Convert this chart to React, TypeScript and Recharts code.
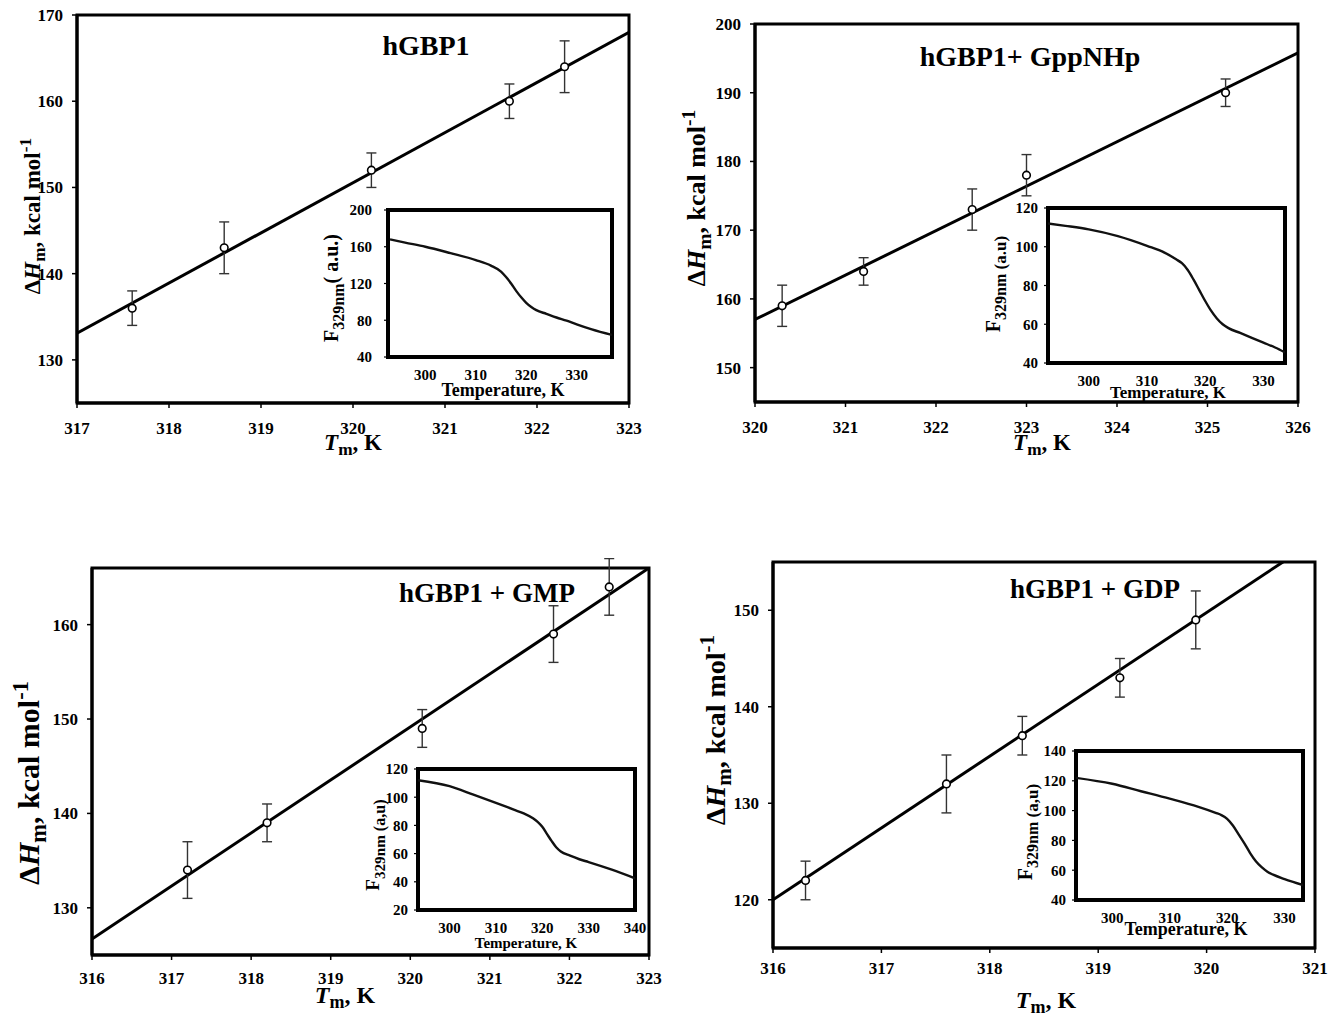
import React from "react";
import {
  ComposedChart,
  LineChart,
  Line,
  Scatter,
  ErrorBar,
  XAxis,
  YAxis,
  ReferenceArea,
  CartesianGrid,
} from "recharts";

const SERIF = '"Liberation Serif", "Times New Roman", serif';

// panel 1: hGBP1
const p1Tm = [317.6, 318.6, 320.2, 321.7, 322.3];
const p1dH = [136, 143, 152, 160, 164];
const p1Err = [2, 3, 2, 2, 3];
const p1FitT = [317, 323];
const p1FitH = [133.1, 168];
const p1XTicks = [317, 318, 319, 320, 321, 322, 323];
const p1YTicks = [130, 140, 150, 160, 170];
const p1InsetT = [293, 296, 300, 305, 310, 313, 315, 316, 317, 318, 319, 320, 321, 322, 324, 326, 328, 330, 333, 337];
const p1InsetF = [168, 164.5, 160, 153, 145.5, 139.5, 133, 127, 120, 112, 105, 99, 94.5, 91, 87, 83, 79.5, 75.5, 70, 64];
const p1InsetXTicks = [300, 310, 320, 330];
const p1InsetYTicks = [40, 80, 120, 160, 200];

// panel 2: hGBP1 + GppNHp
const p2Tm = [320.3, 321.2, 322.4, 323.0, 325.2];
const p2dH = [159, 164, 173, 178, 190];
const p2Err = [3, 2, 3, 3, 2];
const p2FitT = [320, 326];
const p2FitH = [157.0, 195.8];
const p2XTicks = [320, 321, 322, 323, 324, 325, 326];
const p2YTicks = [150, 160, 170, 180, 190, 200];
const p2InsetT = [293, 296, 300, 305, 310, 313, 315, 316, 317, 318, 319, 320, 321, 322, 323, 324, 326, 328, 330, 332, 333.7];
const p2InsetF = [112, 110.8, 109, 105.5, 100.5, 97, 93.5, 91.5, 88, 83, 77.5, 72, 67, 63, 60, 58, 55.5, 53, 50.5, 48, 45.5];
const p2InsetXTicks = [300, 310, 320, 330];
const p2InsetYTicks = [40, 60, 80, 100, 120];

// panel 3: hGBP1 + GMP
const p3Tm = [317.2, 318.2, 320.15, 321.8, 322.5];
const p3dH = [134, 139, 149, 159, 164];
const p3Err = [3, 2, 2, 3, 3];
const p3FitT = [316, 323];
const p3FitH = [126.7, 166];
const p3XTicks = [316, 317, 318, 319, 320, 321, 322, 323];
const p3YTicks = [130, 140, 150, 160];
const p3InsetT = [293.2, 300, 305, 310, 314, 316, 318, 319, 320, 321, 322, 323, 324, 326, 328, 330, 335, 340];
const p3InsetF = [112, 107.8, 102, 96, 91, 88.5, 85, 82.5, 79, 74, 69, 64.5, 61.5, 58.5, 56, 54, 48.6, 42.5];
const p3InsetXTicks = [300, 310, 320, 330, 340];
const p3InsetYTicks = [20, 40, 60, 80, 100, 120];

// panel 4: hGBP1 + GDP
const p4Tm = [316.3, 317.6, 318.3, 319.2, 319.9];
const p4dH = [122, 132, 137, 143, 149];
const p4Err = [2, 3, 2, 2, 3];
const p4FitT = [316, 321];
const p4FitH = [120, 157.2];
const p4XTicks = [316, 317, 318, 319, 320, 321];
const p4YTicks = [120, 130, 140, 150];
const p4InsetT = [293.7, 300, 305, 310, 315, 318, 319, 320, 321, 322, 323, 324, 325, 326, 327, 328, 330, 333.2];
const p4InsetF = [122, 118, 113, 108, 102.5, 98.5, 97, 94.5, 90, 84, 78, 71.5, 66, 62, 59, 57, 54, 50];
const p4InsetXTicks = [300, 310, 320, 330];
const p4InsetYTicks = [40, 60, 80, 100, 120, 140];

const pts = (t: number[], h: number[], e: number[]) => t.map((x, i) => ({ x, y: h[i], err: e[i] }));
const fit = (t: number[], h: number[]) => t.map((x, i) => ({ x, y: h[i] }));
const curve = (t: number[], f: number[]) => t.map((x, i) => ({ t: x, f: f[i] }));

const mainTick = { fontSize: 17, fontWeight: 700, fill: "#000", fontFamily: SERIF };
const insetTick = { fontSize: 15, fontWeight: 700, fill: "#000", fontFamily: SERIF };

const OpenCircle = (props: any) => {
  const { cx, cy } = props;
  if (cx == null || cy == null) return null;
  return <circle cx={cx} cy={cy} r={3.8} fill="#fff" stroke="#000" strokeWidth={1.6} />;
};

type Box = { x0: number; x1: number; y0: number; y1: number };

function MainPanel(props: {
  box: Box;
  xDomain: [number, number];
  yDomain: [number, number];
  xTicks: number[];
  yTicks: number[];
  points: any[];
  fitLine: any[];
  xTickMargin: number;
}) {
  const { box, xDomain, yDomain, xTicks, yTicks, points, fitLine, xTickMargin } = props;
  const YW = 70, XH = 70, MT = 10, MR = 20;
  const w = box.x1 - box.x0 + YW + MR;
  const h = box.y1 - box.y0 + MT + XH;
  return (
    <div style={{ position: "absolute", left: box.x0 - YW, top: box.y0 - MT }}>
      <ComposedChart width={w} height={h} margin={{ top: MT, right: MR, bottom: 0, left: 0 }}>
        <XAxis
          type="number"
          dataKey="x"
          domain={xDomain}
          ticks={xTicks}
          interval={0}
          allowDataOverflow
          height={XH}
          tickSize={5}
          tickMargin={xTickMargin}
          axisLine={{ stroke: "#000", strokeWidth: 3 }}
          tickLine={{ stroke: "#000", strokeWidth: 1.5 }}
          tick={mainTick}
        />
        <YAxis
          type="number"
          dataKey="y"
          domain={yDomain}
          ticks={yTicks}
          interval={0}
          allowDataOverflow
          width={YW}
          tickSize={5}
          tickMargin={9}
          axisLine={{ stroke: "#000", strokeWidth: 3 }}
          tickLine={{ stroke: "#000", strokeWidth: 1.5 }}
          tick={mainTick}
        />
        <ReferenceArea
          x1={xDomain[0]}
          x2={xDomain[1]}
          y1={yDomain[0]}
          y2={yDomain[1]}
          fill="none"
          fillOpacity={0}
          stroke="#000"
          strokeWidth={3}
          strokeOpacity={1}
        />
        <Line data={fitLine} dataKey="y" type="linear" stroke="#000" strokeWidth={3} dot={false} isAnimationActive={false} />
        <Scatter data={points} shape={OpenCircle} isAnimationActive={false}>
          <ErrorBar dataKey="err" direction="y" width={5} stroke="#333" strokeWidth={1.4} />
        </Scatter>
      </ComposedChart>
    </div>
  );
}

function Inset(props: {
  box: Box;
  xDomain: [number, number];
  yDomain: [number, number];
  xTicks: number[];
  yTicks: number[];
  data: any[];
  yTickMargin: number;
}) {
  const { box, xDomain, yDomain, xTicks, yTicks, data, yTickMargin } = props;
  const YW = 50, XH = 40, MT = 8, MR = 12;
  const w = box.x1 - box.x0 + YW + MR;
  const h = box.y1 - box.y0 + MT + XH;
  return (
    <div style={{ position: "absolute", left: box.x0 - YW, top: box.y0 - MT }}>
      <LineChart width={w} height={h} data={data} margin={{ top: MT, right: MR, bottom: 0, left: 0 }}>
        <CartesianGrid fill="#fff" horizontal={false} vertical={false} />
        <XAxis
          type="number"
          dataKey="t"
          domain={xDomain}
          ticks={xTicks}
          interval={0}
          allowDataOverflow
          height={XH}
          tickSize={0}
          tickMargin={12}
          axisLine={false}
          tick={insetTick}
        />
        <YAxis
          type="number"
          domain={yDomain}
          ticks={yTicks}
          interval={0}
          allowDataOverflow
          width={YW}
          tickSize={4}
          tickMargin={yTickMargin}
          axisLine={false}
          tickLine={{ stroke: "#000", strokeWidth: 1.2 }}
          tick={insetTick}
        />
        <YAxis
          yAxisId="r"
          orientation="right"
          type="number"
          domain={yDomain}
          ticks={yTicks}
          interval={0}
          width={0}
          tickSize={4}
          axisLine={false}
          tickLine={{ stroke: "#000", strokeWidth: 1.2 }}
          tickFormatter={() => ""}
        />
        <ReferenceArea
          x1={xDomain[0]}
          x2={xDomain[1]}
          y1={yDomain[0]}
          y2={yDomain[1]}
          fill="none"
          fillOpacity={0}
          stroke="#000"
          strokeWidth={4}
          strokeOpacity={1}
        />
        <Line dataKey="f" type="monotone" stroke="#111" strokeWidth={2.4} dot={false} isAnimationActive={false} />
      </LineChart>
    </div>
  );
}

function YLabel({ x, y, fs }: { x: number; y: number; fs: number }) {
  return (
    <text transform={`rotate(-90 ${x} ${y})`} x={x} y={y} textAnchor="middle" fontSize={fs} fontWeight="bold" fontFamily={SERIF}>
      Δ<tspan fontStyle="italic">H</tspan>
      <tspan fontSize={fs * 0.75} dy={fs * 0.22}>m</tspan>
      <tspan dy={-fs * 0.22}>, kcal mol</tspan>
      <tspan fontSize={fs * 0.75} dy={-fs * 0.38}>-1</tspan>
    </text>
  );
}

function XLabel({ x, y, fs }: { x: number; y: number; fs: number }) {
  return (
    <text x={x} y={y} textAnchor="middle" fontSize={fs} fontWeight="bold" fontFamily={SERIF}>
      <tspan fontStyle="italic">T</tspan>
      <tspan fontSize={fs * 0.75} dy={fs * 0.22}>m</tspan>
      <tspan dy={-fs * 0.22}>, K</tspan>
    </text>
  );
}

function FLabel({ x, y, fs, unit, raised }: { x: number; y: number; fs: number; unit: string; raised?: boolean }) {
  return (
    <text transform={`rotate(-90 ${x} ${y})`} x={x} y={y} textAnchor="middle" fontSize={fs} fontWeight="bold" fontFamily={SERIF}>
      F<tspan fontSize={fs * 0.8} dy={fs * 0.3}>329nm</tspan>
      {raised ? <tspan dy={-fs * 0.3}>{unit}</tspan> : <tspan fontSize={fs * 0.85}>{" " + unit}</tspan>}
    </text>
  );
}

function Title({ x, y, fs, children }: { x: number; y: number; fs: number; children: string }) {
  return (
    <text x={x} y={y} textAnchor="middle" fontSize={fs} fontWeight="bold" fontFamily={SERIF}>
      {children}
    </text>
  );
}

function TempLabel({ x, y, fs }: { x: number; y: number; fs: number }) {
  return (
    <text x={x} y={y} textAnchor="middle" fontSize={fs} fontWeight="bold" fontFamily={SERIF}>
      Temperature, K
    </text>
  );
}

export default function App() {
  return (
    <div style={{ position: "absolute", left: 0, top: 0, width: 1336, height: 1020, background: "#fff", fontFamily: SERIF }}>
      <MainPanel
        box={{ x0: 77, x1: 629, y0: 15, y1: 403 }}
        xDomain={[317, 323]}
        yDomain={[125, 170]}
        xTicks={p1XTicks}
        yTicks={p1YTicks}
        points={pts(p1Tm, p1dH, p1Err)}
        fitLine={fit(p1FitT, p1FitH)}
        xTickMargin={14}
      />
      <MainPanel
        box={{ x0: 755, x1: 1298, y0: 24, y1: 402 }}
        xDomain={[320, 326]}
        yDomain={[145, 200]}
        xTicks={p2XTicks}
        yTicks={p2YTicks}
        points={pts(p2Tm, p2dH, p2Err)}
        fitLine={fit(p2FitT, p2FitH)}
        xTickMargin={14}
      />
      <MainPanel
        box={{ x0: 92, x1: 649, y0: 568, y1: 955 }}
        xDomain={[316, 323]}
        yDomain={[125, 166]}
        xTicks={p3XTicks}
        yTicks={p3YTicks}
        points={pts(p3Tm, p3dH, p3Err)}
        fitLine={fit(p3FitT, p3FitH)}
        xTickMargin={12}
      />
      <MainPanel
        box={{ x0: 773, x1: 1315, y0: 562, y1: 948 }}
        xDomain={[316, 321]}
        yDomain={[115, 155]}
        xTicks={p4XTicks}
        yTicks={p4YTicks}
        points={pts(p4Tm, p4dH, p4Err)}
        fitLine={fit(p4FitT, p4FitH)}
        xTickMargin={9}
      />

      <Inset
        box={{ x0: 388, x1: 612, y0: 210, y1: 357 }}
        xDomain={[292.6, 337]}
        yDomain={[40, 200]}
        xTicks={p1InsetXTicks}
        yTicks={p1InsetYTicks}
        data={curve(p1InsetT, p1InsetF)}
        yTickMargin={12}
      />
      <Inset
        box={{ x0: 1048, x1: 1285, y0: 208, y1: 363 }}
        xDomain={[293, 333.7]}
        yDomain={[40, 120]}
        xTicks={p2InsetXTicks}
        yTicks={p2InsetYTicks}
        data={curve(p2InsetT, p2InsetF)}
        yTickMargin={6}
      />
      <Inset
        box={{ x0: 418, x1: 635, y0: 769, y1: 910 }}
        xDomain={[293.2, 340]}
        yDomain={[20, 120]}
        xTicks={p3InsetXTicks}
        yTicks={p3InsetYTicks}
        data={curve(p3InsetT, p3InsetF)}
        yTickMargin={6}
      />
      <Inset
        box={{ x0: 1076, x1: 1303, y0: 751, y1: 900 }}
        xDomain={[293.7, 333.2]}
        yDomain={[40, 140]}
        xTicks={p4InsetXTicks}
        yTicks={p4InsetYTicks}
        data={curve(p4InsetT, p4InsetF)}
        yTickMargin={6}
      />

      <svg width={1336} height={1020} style={{ position: "absolute", left: 0, top: 0, pointerEvents: "none" }}>
        <Title x={426} y={55} fs={28}>hGBP1</Title>
        <Title x={1030} y={66} fs={28}>hGBP1+ GppNHp</Title>
        <Title x={487} y={602} fs={27}>hGBP1 + GMP</Title>
        <Title x={1095} y={598} fs={27}>hGBP1 + GDP</Title>

        <YLabel x={40} y={216} fs={23} />
        <YLabel x={705} y={198} fs={26} />
        <YLabel x={39} y={783} fs={30} />
        <YLabel x={725} y={730} fs={28} />

        <XLabel x={353} y={450} fs={23} />
        <XLabel x={1042} y={450} fs={23} />
        <XLabel x={345} y={1003} fs={24} />
        <XLabel x={1046} y={1008} fs={24} />

        <FLabel x={338} y={288} fs={20} unit="( a.u.)" raised />
        <FLabel x={1000} y={284} fs={20} unit="(a.u)" />
        <FLabel x={379} y={845} fs={19} unit="(a,u)" />
        <FLabel x={1032} y={832} fs={20} unit="(a,u)" />

        <TempLabel x={503} y={396} fs={18} />
        <TempLabel x={1168} y={398} fs={17} />
        <TempLabel x={526} y={948} fs={15} />
        <TempLabel x={1186} y={935} fs={18} />
      </svg>
    </div>
  );
}
